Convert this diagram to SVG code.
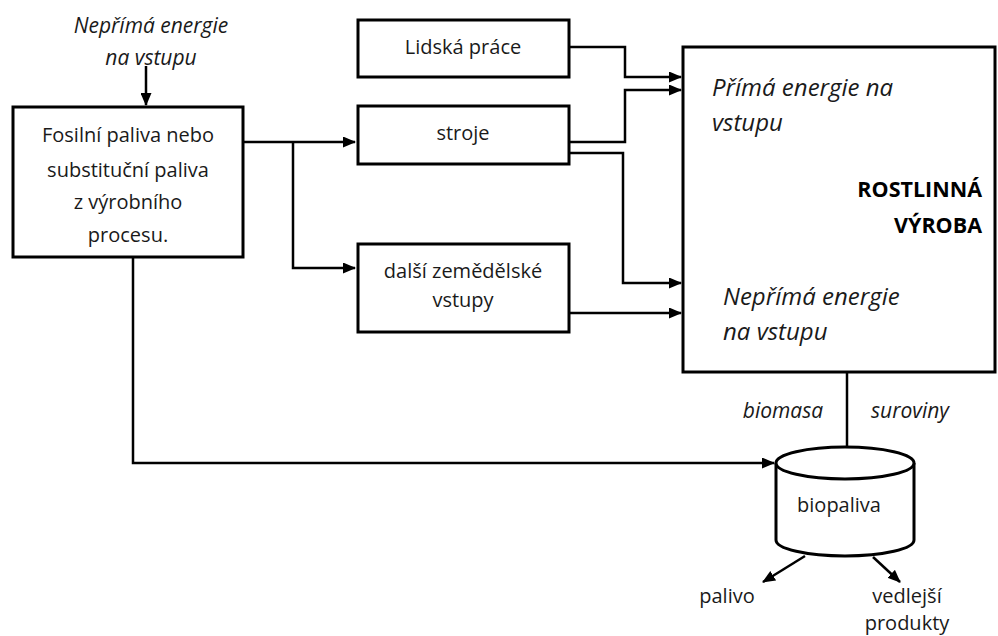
<svg xmlns="http://www.w3.org/2000/svg" width="998" height="636" viewBox="0 0 998 636">
  <style>
    .box { fill: #fff; stroke: #000; stroke-width: 3; }
    .wire { fill: none; stroke: #000; stroke-width: 2.5; }
    .t { font-family: "Open Sans", "Liberation Sans", sans-serif; font-size: 20px; fill: #1a1a1a; text-anchor: middle; }
    .i { font-family: "Open Sans", "Liberation Sans", sans-serif; font-size: 21px; font-style: italic; fill: #1a1a1a; }
    .il { font-family: "Open Sans", "Liberation Sans", sans-serif; font-size: 24px; font-style: italic; fill: #1a1a1a; }
    .b { font-family: "Open Sans", "Liberation Sans", sans-serif; font-size: 21.5px; font-weight: bold; fill: #000; text-anchor: end; }
  </style>
  <defs>
    <marker id="arrow" markerUnits="userSpaceOnUse" markerWidth="13" markerHeight="11" refX="12" refY="5.5" orient="auto">
      <path d="M0,0 L13,5.5 L0,11 z" fill="#000"/>
    </marker>
  </defs>

  <rect width="998" height="636" fill="#fff"/>

  <!-- free labels -->
  <text class="i" x="151" y="33" text-anchor="middle">Nepřímá energie</text>
  <text class="i" x="151" y="65" text-anchor="middle">na vstupu</text>

  <!-- connectors -->
  <g id="connectors">
    <path class="wire" d="M146,66 V105" marker-end="url(#arrow)"/>
    <path class="wire" d="M243,142 H355" marker-end="url(#arrow)"/>
    <path class="wire" d="M293,142 V268 H355" marker-end="url(#arrow)"/>
    <path class="wire" d="M569,47 H625 V77 H681" marker-end="url(#arrow)"/>
    <path class="wire" d="M569,142 H625 V90 H681" marker-end="url(#arrow)"/>
    <path class="wire" d="M569,153 H623 V283 H681" marker-end="url(#arrow)"/>
    <path class="wire" d="M569,313 H681" marker-end="url(#arrow)"/>
    <path class="wire" d="M847,373 V460" marker-end="url(#arrow)"/>
    <path class="wire" d="M133,258 V463 H774" marker-end="url(#arrow)"/>
    <path class="wire" d="M805,556 L763,582" marker-end="url(#arrow)"/>
    <path class="wire" d="M873,557 L900,582" marker-end="url(#arrow)"/>
  </g>

  <g id="fosilni">
    <rect class="box" x="13" y="107" width="230" height="150"/>
    <text class="t" x="128" y="142">Fosilní paliva nebo</text>
    <text class="t" x="128" y="177">substituční paliva</text>
    <text class="t" x="128" y="209">z výrobního</text>
    <text class="t" x="128" y="242">procesu.</text>
  </g>

  <g id="lidska-prace">
    <rect class="box" x="358" y="20" width="211" height="57"/>
    <text class="t" x="463" y="54">Lidská práce</text>
  </g>

  <g id="stroje">
    <rect class="box" x="358" y="106" width="211" height="58"/>
    <text class="t" x="463" y="140">stroje</text>
  </g>

  <g id="dalsi-vstupy">
    <rect class="box" x="358" y="244" width="211" height="88"/>
    <text class="t" x="463" y="278">další zemědělské</text>
    <text class="t" x="463" y="307">vstupy</text>
  </g>

  <g id="rostlinna-vyroba">
    <rect class="box" x="683" y="47" width="312" height="325"/>
    <text class="il" x="712" y="96">Přímá energie na</text>
    <text class="il" x="712" y="131">vstupu</text>
    <text class="b" x="982" y="197">ROSTLINNÁ</text>
    <text class="b" x="982" y="233">VÝROBA</text>
    <text class="il" x="723" y="305">Nepřímá energie</text>
    <text class="il" x="723" y="340">na vstupu</text>
  </g>

  <text class="i" x="783" y="418" text-anchor="middle">biomasa</text>
  <text class="i" x="910" y="418" text-anchor="middle">suroviny</text>

  <g id="biopaliva">
    <path class="box" d="M776,463 V540 A69,16 0 0 0 914,540 V463"/>
    <ellipse class="box" cx="845" cy="463" rx="69" ry="16"/>
    <text class="t" x="839" y="512">biopaliva</text>
  </g>

  <text class="t" x="727" y="603">palivo</text>
  <text class="t" x="907" y="603">vedlejší</text>
  <text class="t" x="907" y="630">produkty</text>
</svg>
